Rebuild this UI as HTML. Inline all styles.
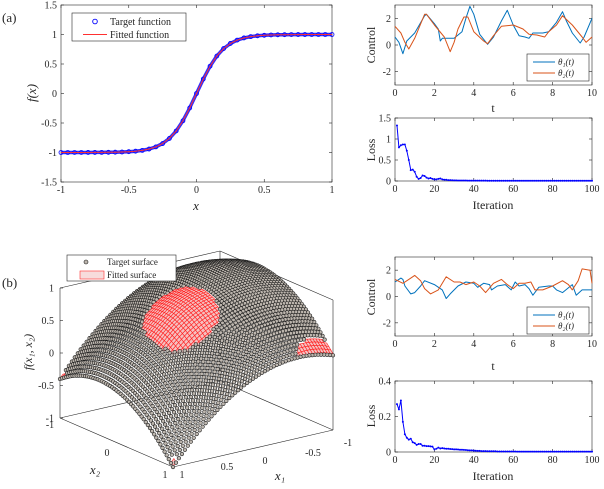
<!DOCTYPE html>
<html><head><meta charset="utf-8"><style>
body{margin:0;background:#fff;width:604px;height:484px;overflow:hidden}
svg text{font-family:"Liberation Serif",serif;fill:#262626}
</style></head><body>
<svg id="fig" width="604" height="484" viewBox="0 0 604 484" xmlns="http://www.w3.org/2000/svg"></svg>
<script>
// ---- data ----
const sigX = [-1,-0.95,-0.9,-0.85,-0.8,-0.75,-0.7,-0.65,-0.6,-0.55,-0.5,-0.45,-0.4,-0.35,-0.3,-0.25,-0.2,-0.15,-0.1,-0.05,0,0.05,0.1,0.15,0.2,0.25,0.3,0.35,0.4,0.45,0.5,0.55,0.6,0.65,0.7,0.75,0.8,0.85,0.9,0.95,1];
const sigY = [-0.9999,-0.9999,-0.9998,-0.9996,-0.9993,-0.9989,-0.9982,-0.997,-0.9951,-0.9918,-0.9866,-0.978,-0.964,-0.9414,-0.9051,-0.8483,-0.7616,-0.6351,-0.4621,-0.2449,0,0.2449,0.4621,0.6351,0.7616,0.8483,0.9051,0.9414,0.964,0.978,0.9866,0.9918,0.9951,0.997,0.9982,0.9989,0.9993,0.9996,0.9998,0.9999,0.9999];
const ctlAt1 = [0,0.2,0.4,0.6,1.0,1.5,1.6,2.0,2.2,2.3,2.4,3.0,3.4,3.6,3.8,4.0,4.3,4.7,5.0,5.4,5.7,6.0,6.3,6.6,6.8,7.0,7.5,7.8,8.2,8.5,8.7,9.0,9.4,9.6,10];
const ctlA1 = [0.6,0.2,-0.65,0.3,0.9,2.2,2.3,1.6,1.2,0.3,0.5,0.5,1.0,2.0,2.9,2.3,0.8,0.05,0.6,1.8,2.6,1.5,0.7,0.6,0.5,0.9,0.9,1.0,1.7,2.5,1.8,0.9,0.15,0.6,2.0];
const ctlAt2 = [0,0.3,0.5,0.7,1.0,1.5,1.6,2.0,2.5,2.8,3.0,3.2,3.5,3.7,4.0,4.5,4.7,5.0,5.4,6.0,6.5,6.8,7.2,7.6,7.8,8.2,8.5,9.0,9.5,9.7,10];
const ctlA2 = [1.4,0.9,0.2,-0.3,0.5,2.3,2.3,1.5,0.6,-0.5,0.2,1.2,2.1,2.1,1.0,0.3,0.1,0.7,1.4,1.5,1.2,0.8,0.75,0.6,1.0,1.5,2.2,1.5,0.6,0.2,0.6];
const ctlBt1 = [0,0.2,0.3,0.4,0.5,0.8,1.0,1.3,1.5,2.0,2.4,2.6,2.8,3.2,3.6,4.0,4.2,4.5,4.8,4.9,5.2,5.6,5.9,6.1,6.3,6.6,6.8,7.0,7.3,7.8,8.0,8.2,8.5,9.0,9.2,9.5,10];
const ctlB1 = [1.1,1.3,1.4,1.3,0.8,0.2,0.3,0.8,1.2,0.9,0.5,-0.15,0.2,0.8,1.1,1.0,0.7,1.0,0.9,0.5,0.8,0.9,0.5,1.1,0.8,0.9,0.6,0.1,0.7,0.8,0.8,0.5,0.3,0.9,0.1,0.5,0.5];
const ctlBt2 = [0,0.4,0.7,1.0,1.3,1.5,1.8,2.2,2.6,3.0,3.3,3.6,4.0,4.3,4.6,5.0,5.4,5.7,6.0,6.3,6.6,6.9,7.1,7.5,8.0,8.5,8.8,9.0,9.3,9.5,9.9,10];
const ctlB2 = [1.3,1.0,1.3,1.6,1.2,0.6,0.2,0.5,1.5,1.1,1.1,0.9,1.1,0.8,0.3,1.0,1.3,0.9,0.6,1.0,1.0,1.1,0.5,0.5,0.8,1.2,0.9,0.5,1.2,2.1,2.0,1.0];
const lossA = [1.32,0.8,0.85,0.87,0.87,0.72,0.5,0.26,0.27,0.22,0.1,0.05,0.07,0.13,0.12,0.08,0.06,0.07,0.05,0.04,0.04,0.05,0.06,0.04,0.03,0.03,0.02,0.02,0.018,0.015,0.014,0.013,0.012,0.012,0.011,0.011,0.01,0.01,0.01,0.009,0.009,0.009,0.008,0.008,0.008,0.008,0.007,0.007,0.007,0.007,0.007,0.006,0.006,0.006,0.006,0.006,0.006,0.006,0.006,0.005,0.005,0.005,0.005,0.005,0.005,0.005,0.005,0.005,0.005,0.005,0.005,0.005,0.005,0.005,0.005,0.005,0.005,0.005,0.005,0.005,0.005,0.005,0.005,0.005,0.005,0.005,0.005,0.005,0.005,0.005,0.005,0.005,0.005,0.005,0.005,0.005,0.005,0.005,0.005,0.005];
const lossB = [0.27,0.24,0.29,0.17,0.10,0.08,0.07,0.075,0.055,0.05,0.04,0.045,0.045,0.035,0.035,0.033,0.033,0.032,0.03,0.015,0.018,0.025,0.02,0.022,0.02,0.018,0.018,0.017,0.016,0.015,0.015,0.014,0.013,0.013,0.012,0.011,0.01,0.009,0.009,0.008,0.007,0.006,0.006,0.005,0.005,0.005,0.004,0.004,0.004,0.004,0.004,0.003,0.003,0.003,0.003,0.003,0.003,0.003,0.003,0.003,0.003,0.002,0.002,0.002,0.002,0.002,0.002,0.002,0.002,0.002,0.002,0.002,0.002,0.002,0.002,0.002,0.002,0.002,0.002,0.002,0.002,0.002,0.002,0.002,0.002,0.002,0.002,0.002,0.002,0.002,0.002,0.002,0.002,0.002,0.002,0.002,0.002,0.002,0.002,0.002];
const xTicksA = [-1,-0.5,0,0.5,1];
const yTicksA = [-1.5,-1,-0.5,0,0.5,1,1.5];
const tTicks = [0,2,4,6,8,10];
const ctlTicks = [-2,0,2];
const iterTicks = [0,20,40,60,80,100];
const lossTicksA = [0,0.5,1,1.5];
const lossTicksB = [0,0.2,0.4];
const zTicks = [-1,-0.5,0,0.5,1];

const NS='http://www.w3.org/2000/svg';
const svg=document.getElementById('fig');
function mk(tag,attrs,parent){const e=document.createElementNS(NS,tag);for(const k in attrs)e.setAttribute(k,attrs[k]);(parent||svg).appendChild(e);return e;}
function txt(s,x,y,size,anchor,parent,extra){const e=mk('text',Object.assign({x:x,y:y,'font-size':size,'text-anchor':anchor||'middle'},extra||{}),parent);e.textContent=s;return e;}

function axes(name,L,T,R,B,xmin,xmax,ymin,ymax,xt,yt,opts){
  const g=mk('g',{});
  
  
  const sx=v=>L+(v-xmin)/(xmax-xmin)*(R-L);
  const sy=v=>B-(v-ymin)/(ymax-ymin)*(B-T);
  mk('rect',{x:L,y:T,width:R-L,height:B-T,fill:'#fff',stroke:'#262626','stroke-width':0.6},g);
  xt.forEach(v=>{const x=sx(v);mk('line',{x1:x,y1:B,x2:x,y2:B-3,stroke:'#262626','stroke-width':0.6},g);mk('line',{x1:x,y1:T,x2:x,y2:T+3,stroke:'#262626','stroke-width':0.6},g);
    const t=txt(String(v),x,B+11,opts.fs||10,'middle',g);});
  yt.forEach(v=>{const y=sy(v);mk('line',{x1:L,y1:y,x2:L+3,y2:y,stroke:'#262626','stroke-width':0.6},g);mk('line',{x1:R,y1:y,x2:R-3,y2:y,stroke:'#262626','stroke-width':0.6},g);
    const t=txt(String(v),L-4,y+3.5,opts.fs||10,'end',g);});
  return {g,sx,sy};
}
function poly(ax,xs,ys,color,w,name){
  const pts=xs.map((x,i)=>ax.sx(x).toFixed(1)+','+ax.sy(ys[i]).toFixed(1)).join(' ');
  const p=mk('polyline',{points:pts,fill:'none',stroke:color,'stroke-width':w,'stroke-linejoin':'round'},ax.g);
  
  
  return p;
}
const BLUE='#0072BD',ORANGE='#D95319';

// ---- panel (a) main ----
const pa=axes('sigmoid-plot',61,5,332,182,-1,1,-1.5,1.5,xTicksA,yTicksA,{});
poly(pa,sigX,sigY,'#3030ff',3.5,'target-band');
sigX.forEach((x,i)=>{const c=mk('circle',{cx:pa.sx(x),cy:pa.sy(sigY[i]),r:2,fill:'none',stroke:'#0000ff','stroke-width':0.8},pa.g);
  
  });
poly(pa,sigX,sigY,'#ff3030',1,'fitted-line');
let t=txt('x',196,210,13,'middle',null,{'font-style':'italic'});
t=txt('f(x)',0,0,13,'middle',null,{'font-style':'italic',transform:'translate(36,93) rotate(-90)'});
t=txt('(a)',2,22,13,'start');
const lg=mk('g',{});
mk('rect',{x:72,y:13,width:114,height:28,fill:'#fff',stroke:'#262626','stroke-width':0.6},lg);
mk('circle',{cx:95,cy:21.5,r:2.3,fill:'none',stroke:'#0000ff','stroke-width':0.9},lg);
mk('line',{x1:83,y1:34.5,x2:107,y2:34.5,stroke:'#ff3030','stroke-width':1},lg);
txt('Target function',110,25,10,'start',lg);txt('Fitted function',110,38,10,'start',lg);

// ---- control (a) ----
function ctlPanel(name,T,B,t1,y1,t2,y2,legT){
  const ax=axes(name,395,T,592,B,0,10,-3,3,tTicks,ctlTicks,{});
  poly(ax,t1,y1,BLUE,1,'theta1-line');poly(ax,t2,y2,ORANGE,1,'theta2-line');
  const l=mk('g',{},ax.g);
  mk('rect',{x:527,y:legT,width:62,height:27,fill:'#fff',stroke:'#262626','stroke-width':0.6},l);
  mk('line',{x1:533,y1:legT+8,x2:555,y2:legT+8,stroke:BLUE,'stroke-width':1},l);
  mk('line',{x1:533,y1:legT+19,x2:555,y2:legT+19,stroke:ORANGE,'stroke-width':1},l);
  txt('θ\u2081(t)',558,legT+11,9,'start',l,{'font-style':'italic'});
  txt('θ\u2082(t)',558,legT+22,9,'start',l,{'font-style':'italic'});
  return ax;
}
ctlPanel('control-plot-a',5,85,ctlAt1,ctlA1,ctlAt2,ctlA2,54);
t=txt('Control',0,0,12,'middle',null,{transform:'translate(375,45) rotate(-90)'});
t=txt('t',493,112,12);

function lossPanel(name,T,B,ymax,yt,data){
  const ax=axes(name,395,T,592,B,0,100,0,ymax,iterTicks,yt,{});
  const xs=data.map((v,i)=>i+1);
  poly(ax,xs,data,'#0000ff',1,'loss-line');
  data.forEach((v,i)=>{const c=mk('circle',{cx:ax.sx(i+1),cy:ax.sy(v),r:1,fill:'#0000ff'},ax.g);
    
    });
  return ax;
}
lossPanel('loss-plot-a',118,181,1.5,lossTicksA,lossA);
t=txt('Loss',0,0,12,'middle',null,{transform:'translate(375,150) rotate(-90)'});
t=txt('Iteration',493,209,12);

// ---- panel (b) right ----
ctlPanel('control-plot-b',257,336,ctlBt1,ctlB1,ctlBt2,ctlB2,307);
t=txt('Control',0,0,12,'middle',null,{transform:'translate(375,297) rotate(-90)'});
t=txt('t',493,370,12);
lossPanel('loss-plot-b',381,452,0.4,lossTicksB,lossB);
t=txt('Loss',0,0,12,'middle',null,{transform:'translate(375,416) rotate(-90)'});
t=txt('Iteration',493,480,12);

// ---- 3D surface ----
const s3=mk('g',{});
const P=(x1,x2,z)=>[196.5-80*x1+56.5*x2, 424+18.5*x1+24.5*x2-65*(z+1)];
const ln=(a,b)=>mk('line',{x1:a[0],y1:a[1],x2:b[0],y2:b[1],stroke:'#262626','stroke-width':0.6},s3);
ln(P(1,-1,1),P(-1,-1,1));ln(P(-1,-1,1),P(-1,1,1));
ln(P(1,-1,-1),P(1,-1,1));ln(P(-1,-1,-1),P(-1,-1,1));ln(P(-1,1,-1),P(-1,1,1));
ln(P(1,-1,-1),P(-1,-1,-1));ln(P(-1,-1,-1),P(-1,1,-1));
ln(P(1,-1,-1),P(1,1,-1));ln(P(1,1,-1),P(-1,1,-1));
zTicks.forEach(z=>{const p=P(1,-1,z);ln(p,[p[0]+3,p[1]]);const tt=txt(String(z),p[0]-6,p[1]+3.5,10,'end',s3);});
[[-1,50,428],[0,107,456],[1,165,478]].forEach(a=>{const tt=txt(String(a[0]),a[1],a[2],10,'middle',s3);});
[[1,182,478],[0.5,227,470],[0,265,464],[-0.5,313,456],[-1,348,446]].forEach(a=>{const tt=txt(String(a[0]),a[1],a[2],10,'middle',s3);});
const f=(x1,x2)=>0.8875-0.5875*x1-0.3125*x2+0.0125*x1*x2-0.5*(x1*x1+x2*x2);
const g=(x1,x2)=>f(x1,x2)+0.1*Math.sin(3*x1+1)*Math.cos(2.5*x2)-0.05;
const N=54,cells=[];
for(let i=0;i<=N;i++)for(let j=0;j<=N;j++){cells.push([-1+2*i/N,-1+2*j/N]);}
cells.sort((a,b)=>(a[0]+a[1])-(b[0]+b[1]));
const h=2/N;
cells.forEach(([x1,x2])=>{
  const zf=f(x1,x2),zg=g(x1,x2);
  if(zg>zf && x1<1 && x2<1){
    const q=[P(x1,x2,zg),P(x1+h,x2,g(x1+h,x2)),P(x1+h,x2+h,g(x1+h,x2+h)),P(x1,x2+h,g(x1,x2+h))];
    const r=mk('polygon',{points:q.map(p=>p[0].toFixed(1)+','+p[1].toFixed(1)).join(' '),fill:'#f5c0c0',stroke:'#ff2020','stroke-width':0.6},s3);
    
    
  }else{
    const p=P(x1,x2,zf);
    const c=mk('circle',{cx:p[0].toFixed(1),cy:p[1].toFixed(1),r:1.8,fill:'#bdb6ae',stroke:'#1a1a1a','stroke-width':0.6},s3);
    
    
  }
});
t=txt('x\u2082',95,474,13,'middle',s3,{'font-style':'italic'});
t=txt('x\u2081',280,480,13,'middle',s3,{'font-style':'italic'});
t=txt('f(x\u2081, x\u2082)',0,0,12,'middle',s3,{'font-style':'italic',transform:'translate(32,352) rotate(-90)'});
t=txt('(b)',2,287,13,'start');
const l3=mk('g',{});
mk('rect',{x:67,y:255,width:109,height:26,fill:'#fff',stroke:'#262626','stroke-width':0.6},l3);
mk('circle',{cx:86,cy:262,r:2,fill:'#bdb6ae',stroke:'#1a1a1a','stroke-width':0.6},l3);
mk('rect',{x:80,y:271,width:24,height:8,fill:'#f7dcdc',stroke:'#ff3030','stroke-width':0.6},l3);
txt('Target surface',107,265,9,'start',l3);txt('Fitted surface',107,278,9,'start',l3);
</script>
</body></html>
